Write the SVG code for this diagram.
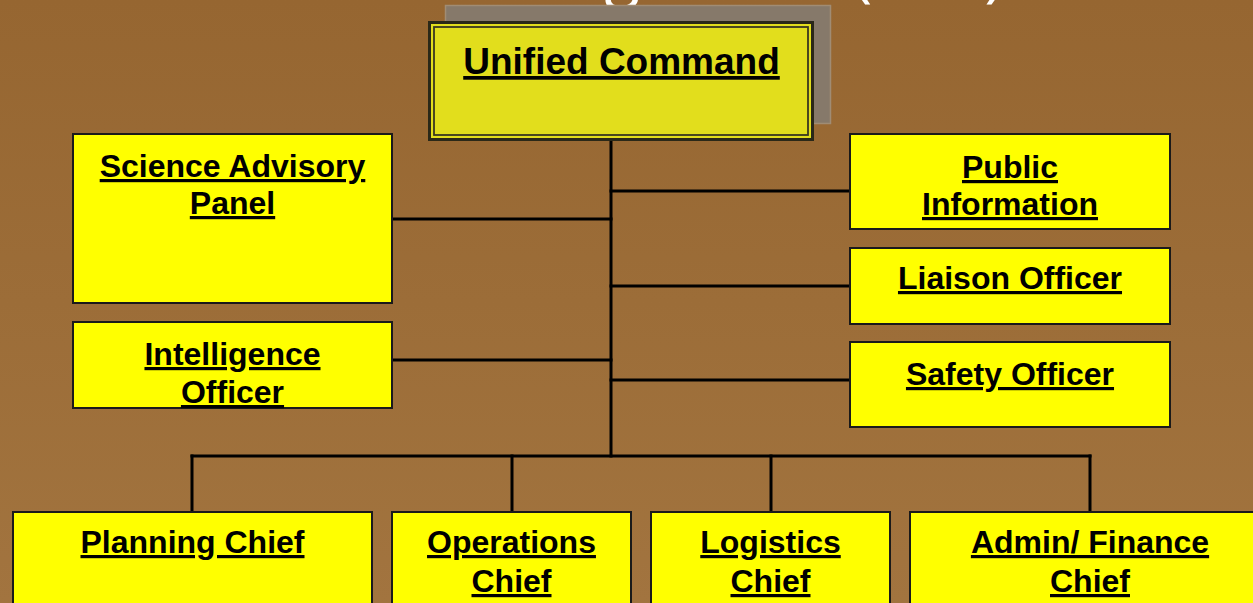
<svg xmlns="http://www.w3.org/2000/svg" width="1253" height="603" viewBox="0 0 1253 603">
<defs>
<linearGradient id="bg" x1="0" y1="0" x2="0" y2="1">
<stop offset="0" stop-color="#966631"/>
<stop offset="1" stop-color="#A2743F"/>
</linearGradient>
<style>
.box{fill:#FFFF00;stroke:#1a1a1a;stroke-width:2}
.lbl{font-family:"Liberation Sans",Arial,sans-serif;font-weight:bold;font-size:32px;fill:#000;text-anchor:middle;text-decoration:underline}
.conn line{stroke:#000;stroke-width:3;stroke-linecap:square}
</style>
</defs>
<rect x="0" y="0" width="1253" height="603" fill="url(#bg)"/>
<text x="588" y="-6" font-family="'Open Sans',sans-serif" font-size="65" fill="#fff" text-anchor="middle">Incident Management (IMT)</text>

<g id="connectors" class="conn">
<line x1="611" y1="140" x2="611" y2="456"/>
<line x1="611" y1="191" x2="850" y2="191"/>
<line x1="611" y1="286" x2="850" y2="286"/>
<line x1="611" y1="380" x2="850" y2="380"/>
<line x1="392" y1="219" x2="611" y2="219"/>
<line x1="392" y1="360" x2="611" y2="360"/>
<line x1="192" y1="456" x2="1090" y2="456"/>
<line x1="192" y1="456" x2="192" y2="512"/>
<line x1="512" y1="456" x2="512" y2="512"/>
<line x1="771" y1="456" x2="771" y2="512"/>
<line x1="1090" y1="456" x2="1090" y2="512"/>
</g>

<g id="unified-command">
<rect x="445.5" y="5.5" width="385" height="118" fill="#86796A" stroke="#A08C74" stroke-width="1.5"/>
<rect x="429.5" y="22.5" width="383" height="117" fill="#E2DE1C" stroke="#2a2818" stroke-width="3"/>
<rect x="434" y="27" width="374" height="108" fill="none" stroke="#3a3820" stroke-width="1.8"/>
<text x="621.5" y="74" class="lbl" style="font-size:37px">Unified Command</text>
</g>

<g id="science-advisory-panel">
<rect class="box" x="73" y="134" width="319" height="169"/>
<text class="lbl" x="232.5" y="177">Science Advisory</text>
<text class="lbl" x="232.5" y="214">Panel</text>
</g>

<g id="intelligence-officer">
<rect class="box" x="73" y="322" width="319" height="86"/>
<text class="lbl" x="232.5" y="365">Intelligence</text>
<text class="lbl" x="232.5" y="403">Officer</text>
</g>

<g id="public-information">
<rect class="box" x="850" y="134" width="320" height="95"/>
<text class="lbl" x="1010" y="178">Public</text>
<text class="lbl" x="1010" y="215">Information</text>
</g>

<g id="liaison-officer">
<rect class="box" x="850" y="248" width="320" height="76"/>
<text class="lbl" x="1010" y="289">Liaison Officer</text>
</g>

<g id="safety-officer">
<rect class="box" x="850" y="342" width="320" height="85"/>
<text class="lbl" x="1010" y="385">Safety Officer</text>
</g>

<g id="planning-chief">
<rect class="box" x="13" y="512" width="359" height="100"/>
<text class="lbl" x="192.5" y="553">Planning Chief</text>
</g>

<g id="operations-chief">
<rect class="box" x="392" y="512" width="239" height="100"/>
<text class="lbl" x="511.5" y="553">Operations</text>
<text class="lbl" x="511.5" y="592">Chief</text>
</g>

<g id="logistics-chief">
<rect class="box" x="651" y="512" width="239" height="100"/>
<text class="lbl" x="770.5" y="553">Logistics</text>
<text class="lbl" x="770.5" y="592">Chief</text>
</g>

<g id="admin-finance-chief">
<rect class="box" x="910" y="512" width="359" height="100"/>
<text class="lbl" x="1090" y="553">Admin/ Finance</text>
<text class="lbl" x="1090" y="592">Chief</text>
</g>
</svg>
